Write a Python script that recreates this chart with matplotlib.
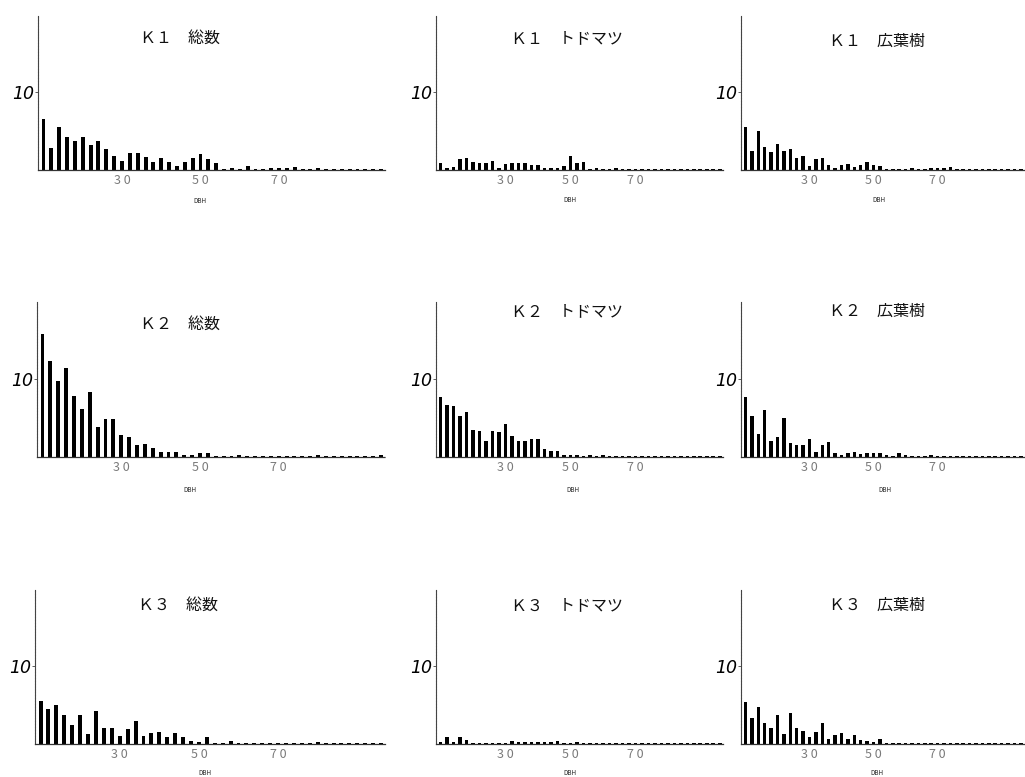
import matplotlib
matplotlib.use("Agg")
import matplotlib.pyplot as plt
import numpy as np

plt.rcParams['font.family'] = ['Noto Sans CJK JP', 'DejaVu Sans']

# DBH classes (2 cm)
dbh = [10, 12, 14, 16, 18, 20, 22, 24, 26, 28, 30, 32, 34, 36, 38, 40, 42, 44, 46, 48, 50, 52,
       54, 56, 58, 60, 62, 64, 66, 68, 70, 72, 74, 76, 78, 80, 82, 84, 86, 88, 90, 92, 94, 96]

k1_total = [6.5, 2.8, 5.5, 4.2, 3.7, 4.2, 3.2, 3.7, 2.7, 1.8, 1.2, 2.2, 2.2, 1.7, 1.0, 1.5, 1.0, 0.5, 1.0, 1.5, 2.1, 1.4,
            0.9, 0.1, 0.2, 0.1, 0.5, 0.1, 0.1, 0.2, 0.3, 0.3, 0.4, 0.1, 0.1, 0.3, 0.1, 0.1, 0.1, 0.1, 0.1, 0.1, 0.1, 0.1]
k1_todo = [0.85, 0.2, 0.4, 1.4, 1.5, 1.0, 0.9, 0.9, 1.1, 0.2, 0.8, 0.9, 0.85, 0.85, 0.6, 0.6, 0.2, 0.2, 0.2, 0.5, 1.8, 0.9,
           1.0, 0.1, 0.2, 0.1, 0.1, 0.2, 0.1, 0.1, 0.1, 0.1, 0.1, 0.1, 0.1, 0.1, 0.1, 0.1, 0.1, 0.1, 0.1, 0.1, 0.1, 0.1]
k1_broad = [5.5, 2.5, 5.0, 3.0, 2.3, 3.3, 2.5, 2.7, 1.5, 1.8, 0.5, 1.4, 1.5, 0.7, 0.3, 0.7, 0.75, 0.4, 0.7, 1.0, 0.7, 0.5,
            0.1, 0.1, 0.1, 0.1, 0.2, 0.1, 0.1, 0.3, 0.2, 0.3, 0.4, 0.1, 0.1, 0.1, 0.1, 0.1, 0.1, 0.1, 0.1, 0.1, 0.1, 0.1]

k2_total = [15.7, 12.2, 9.7, 11.4, 7.8, 6.1, 8.3, 3.8, 4.9, 4.8, 2.8, 2.5, 1.5, 1.6, 1.1, 0.7, 0.7, 0.7, 0.2, 0.2, 0.45, 0.45,
            0.1, 0.1, 0.1, 0.3, 0.1, 0.1, 0.1, 0.1, 0.1, 0.1, 0.1, 0.1, 0.1, 0.3, 0.1, 0.1, 0.1, 0.1, 0.1, 0.1, 0.1, 0.3]
k2_todo = [7.7, 6.6, 6.5, 5.3, 5.7, 3.5, 3.3, 2.1, 3.3, 3.2, 4.2, 2.7, 2.0, 2.1, 2.3, 2.3, 1.0, 0.8, 0.8, 0.3, 0.3, 0.2,
           0.1, 0.3, 0.1, 0.2, 0.1, 0.1, 0.1, 0.1, 0.1, 0.1, 0.1, 0.1, 0.1, 0.1, 0.1, 0.1, 0.1, 0.1, 0.1, 0.1, 0.1, 0.1]
k2_broad = [7.7, 5.3, 3.0, 6.0, 2.0, 2.5, 5.0, 1.8, 1.5, 1.5, 2.3, 0.7, 1.5, 1.9, 0.45, 0.2, 0.5, 0.7, 0.35, 0.5, 0.5, 0.5,
            0.2, 0.15, 0.45, 0.2, 0.1, 0.1, 0.1, 0.2, 0.1, 0.1, 0.1, 0.1, 0.1, 0.1, 0.1, 0.1, 0.1, 0.1, 0.1, 0.1, 0.1, 0.1]

k3_total = [5.5, 4.5, 5.0, 3.7, 2.5, 3.7, 1.3, 4.2, 2.0, 2.0, 1.0, 1.9, 2.9, 1.0, 1.4, 1.6, 0.9, 1.4, 0.85, 0.4, 0.2, 0.85,
            0.1, 0.15, 0.4, 0.1, 0.1, 0.1, 0.1, 0.1, 0.1, 0.1, 0.1, 0.1, 0.1, 0.2, 0.1, 0.1, 0.1, 0.1, 0.1, 0.1, 0.1, 0.1]
k3_todo = [0.2, 0.85, 0.2, 0.9, 0.5, 0.1, 0.1, 0.1, 0.1, 0.15, 0.1, 0.35, 0.25, 0.25, 0.25, 0.25, 0.25, 0.3, 0.4, 0.15, 0.1, 0.2,
           0.1, 0.1, 0.1, 0.1, 0.1, 0.1, 0.1, 0.1, 0.1, 0.1, 0.1, 0.1, 0.1, 0.1, 0.1, 0.1, 0.1, 0.1, 0.1, 0.1, 0.1, 0.1]
k3_broad = [5.4, 3.4, 4.7, 2.7, 2.0, 3.7, 1.3, 4.0, 2.0, 1.7, 0.9, 1.5, 2.7, 0.7, 1.2, 1.4, 0.7, 1.15, 0.55, 0.4, 0.25, 0.65,
            0.15, 0.15, 0.1, 0.1, 0.1, 0.1, 0.1, 0.1, 0.1, 0.1, 0.1, 0.1, 0.1, 0.1, 0.1, 0.15, 0.1, 0.1, 0.1, 0.1, 0.1, 0.1]

titles = [["Ｋ１　総数", "Ｋ１　トドマツ", "Ｋ１　広葉樹"],
          ["Ｋ２　総数", "Ｋ２　トドマツ", "Ｋ２　広葉樹"],
          ["Ｋ３　総数", "Ｋ３　トドマツ", "Ｋ３　広葉樹"]]
series = [[k1_total, k1_todo, k1_broad],
          [k2_total, k2_todo, k2_broad],
          [k3_total, k3_todo, k3_broad]]
xtick_vals = [30, 50, 70]
xtick_labels = ["3 0", "5 0", "7 0"]
ytick_vals = [10]
ytick_labels = ["10"]
xlabel = "DBH"

# ---- layout (pixels) ----
W, H = 1025, 777
col_lr = [(38, 385), (436, 723), (741, 1024)]
col1_left = [38, 37, 35]
row_tb = [(16, 170), (302, 457), (590, 744)]
title_xfrac = [0.41, 0.456, 0.48]
title_y = [[16.9, 16.9, 16.6], [17.0, 18.6, 18.6], [17.8, 17.8, 17.8]]
dbh_lbl_pos = [[(200, 201), (570, 200), (879, 200)],
               [(190, 490), (573, 490), (885, 490)],
               [(205, 773), (570, 773), (877, 773)]]

fig = plt.figure(figsize=(W / 100, H / 100), dpi=100)
fig.patch.set_facecolor('white')

for r in range(3):
    for c in range(3):
        l, rr = col_lr[c]
        if c == 0:
            l = col1_left[r]
        t, b = row_tb[r]
        ax = fig.add_axes([l / W, 1 - b / H, (rr - l) / W, (b - t) / H])
        ax.bar(dbh, series[r][c], width=1.1 if c > 0 else 1.0, color='black', align='center')
        ax.set_xlim(8.6, 97)
        ax.set_ylim(0, 19.8)
        for s in ['top', 'right']:
            ax.spines[s].set_visible(False)
        ax.spines['left'].set_linewidth(0.8)
        ax.spines['left'].set_color('#444444')
        ax.spines['left'].set_linestyle((0, (2, 0.6)))
        ax.spines['bottom'].set_linewidth(0.9)
        ax.spines['bottom'].set_color('#333333')
        ax.spines['bottom'].set_linestyle((0, (2, 1)))
        ax.set_yticks(ytick_vals)
        ax.set_yticklabels(ytick_labels, fontstyle='italic', fontsize=12.5,
                           family=['DejaVu Sans'])
        ax.tick_params(axis='y', length=2, width=0.6, pad=1, color='#444444')
        ax.set_xticks(xtick_vals)
        ax.set_xticklabels(xtick_labels, fontsize=9, color='#7a7a7a')
        ax.tick_params(axis='x', length=0, pad=3)
        ax.set_facecolor('white')
        ax.text(title_xfrac[c], title_y[r][c], titles[r][c], transform=ax.get_yaxis_transform(),
                ha='center', va='center', fontsize=11.5, color='#111111')
        px, py = dbh_lbl_pos[r][c]
        fig.text(px / W, 1 - py / H, xlabel, fontsize=4.5, ha='center', va='center', color='#222222')

fig.savefig("out.png", dpi=100, facecolor='white')
